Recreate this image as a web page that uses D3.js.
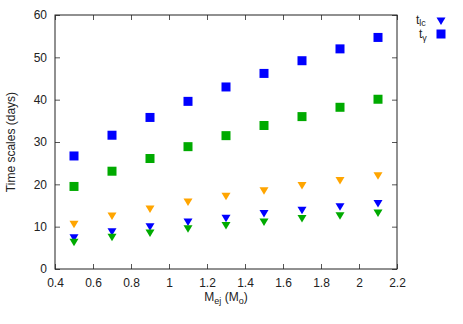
<!DOCTYPE html>
<html>
<head>
<meta charset="utf-8">
<script src="https://cdn.jsdelivr.net/npm/d3@7"></script>
<style>
  body { margin: 0; background: #fff; }
  svg { font-family: "Liberation Sans", Arial, sans-serif; }
</style>
</head>
<body>
<svg width="463" height="324"></svg>
<script>
// data
const mej = [0.5, 0.7, 0.9, 1.1, 1.3, 1.5, 1.7, 1.9, 2.1]
const tGammaBlue = [26.7, 31.6, 35.8, 39.6, 43.0, 46.2, 49.2, 52.0, 54.7]
const tGammaGreen = [19.5, 23.1, 26.1, 28.9, 31.5, 33.9, 36.0, 38.2, 40.1]
const tlcOrange = [10.6, 12.5, 14.2, 15.8, 17.2, 18.5, 19.7, 20.9, 22.0]
const tlcBlue = [7.4, 8.8, 10.0, 11.1, 12.0, 13.1, 13.9, 14.7, 15.5]
const tlcGreen = [6.3, 7.5, 8.5, 9.5, 10.3, 11.1, 11.9, 12.6, 13.2]
const xTicks = [0.4, 0.6, 0.8, 1, 1.2, 1.4, 1.6, 1.8, 2, 2.2]
const yTicks = [0, 10, 20, 30, 40, 50, 60]

const svg = d3.select("svg")
const mLeft = 55, mRight = 397, mTop = 15, mBottom = 269

const xScale = d3.scaleLinear().domain([0.4, 2.2]).range([mLeft, mRight])
const yScale = d3.scaleLinear().domain([0, 60]).range([mBottom, mTop])

function triangle(x, y){
    // filled down triangle, gnuplot style
    return `M${x - 4.5},${y - 3.5}L${x + 4.5},${y - 3.5}L${x},${y + 4}Z`
}

function addAxes(){
    const g = svg.append("g").attr("id", "axes")

    g.append("g")
        .attr("transform", `translate(0, ${mBottom})`)
        .call(d3.axisBottom(xScale).tickValues(xTicks).tickSize(-5).tickPadding(9).tickFormat(d3.format("")))
    g.append("g")
        .attr("transform", `translate(0, ${mTop})`)
        .call(d3.axisTop(xScale).tickValues(xTicks).tickSize(-5).tickFormat(""))
    g.append("g")
        .attr("transform", `translate(${mLeft}, 0)`)
        .call(d3.axisLeft(yScale).tickValues(yTicks).tickSize(-5).tickPadding(8))
    g.append("g")
        .attr("transform", `translate(${mRight}, 0)`)
        .call(d3.axisRight(yScale).tickValues(yTicks).tickSize(-5).tickFormat(""))

    g.selectAll("path.domain").style("display", "none")
    g.selectAll("line").attr("stroke", "#555")
    g.selectAll("text")
        .attr("font-size", 12)
        .attr("font-family", "Liberation Sans, Arial, sans-serif")
        .attr("fill", "#222")

    g.append("rect")
        .attr("x", mLeft).attr("y", mTop)
        .attr("width", mRight - mLeft).attr("height", mBottom - mTop)
        .attr("fill", "none").attr("stroke", "#222").attr("stroke-width", 1)
}

addAxes()

const squares = [
    { values: tGammaBlue, color: "#0000ff" },
    { values: tGammaGreen, color: "#00aa00" }
]
const triangles = [
    { values: tlcOrange, color: "#ffa500" },
    { values: tlcBlue, color: "#0000ff" },
    { values: tlcGreen, color: "#00aa00" }
]

triangles.forEach(s => {
    svg.append("g").selectAll("path")
        .data(s.values)
        .enter()
        .append("path")
        .attr("d", (d, i) => triangle(xScale(mej[i]), yScale(d)))
        .attr("fill", s.color)
})

squares.forEach(s => {
    svg.append("g").selectAll("rect")
        .data(s.values)
        .enter()
        .append("rect")
        .attr("x", (d, i) => xScale(mej[i]) - 4.5)
        .attr("y", d => yScale(d) - 4.5)
        .attr("width", 9)
        .attr("height", 9)
        .attr("fill", s.color)
})

// legend
const legend = svg.append("g").attr("font-size", 12).attr("fill", "#222")
const l1 = legend.append("text").attr("x", 416).attr("y", 24)
l1.append("tspan").text("t")
l1.append("tspan").attr("font-size", 9).attr("dy", 2).text("lc")
const l2 = legend.append("text").attr("x", 419).attr("y", 38)
l2.append("tspan").text("t")
l2.append("tspan").attr("font-size", 9).attr("dy", 3).text("γ")
legend.append("path").attr("d", triangle(441, 21)).attr("fill", "#0000ff")
legend.append("rect").attr("x", 436.5).attr("y", 29.5).attr("width", 9).attr("height", 9).attr("fill", "#0000ff")

// axis titles
const xt = svg.append("text")
    .attr("x", 226).attr("y", 301)
    .attr("text-anchor", "middle")
    .attr("font-size", 12).attr("fill", "#222")
xt.append("tspan").text("M")
xt.append("tspan").attr("font-size", 9).attr("dy", 3).text("ej")
xt.append("tspan").attr("dy", -3).text(" (M")
xt.append("tspan").attr("font-size", 9).attr("dy", 3).text("o")
xt.append("tspan").attr("dy", -3).text(")")

svg.append("text")
    .attr("transform", "translate(15, 142) rotate(-90)")
    .attr("text-anchor", "middle")
    .attr("font-size", 12).attr("fill", "#222")
    .text("Time scales (days)")
</script>
</body>
</html>
